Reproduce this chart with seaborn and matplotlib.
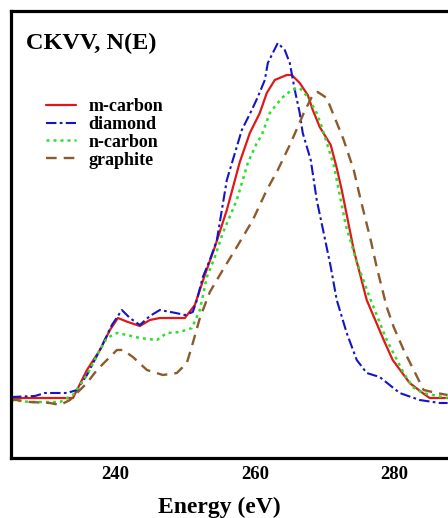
import numpy as np
import pandas as pd
import matplotlib
matplotlib.use("Agg")
import matplotlib.pyplot as plt
import seaborn as sns

# ---- data ----
m_carbon_E = [225.0, 229.16, 232.03, 233.89, 235.90, 237.76, 239.19, 240.34, 241.77, 243.49,
              244.93, 246.36, 249.95, 251.38, 252.81, 254.25, 255.97, 257.83, 259.27, 260.70,
              261.70, 262.85, 264.57, 265.29, 266.43, 267.58, 268.30, 269.30, 270.88, 271.74,
              272.46, 273.32, 274.18, 276.04, 278.48, 279.77, 282.21, 284.07, 285.07, 287.65]
m_carbon_I = [60, 60, 60, 60, 88, 108, 128, 140, 136, 132,
              138, 140, 140, 153, 183, 211, 248, 296, 325, 345,
              365, 378, 383, 383, 375, 363, 348, 331, 313, 290,
              268, 238, 208, 158, 118, 98, 75, 65, 60, 60]

diamond_E = [225.0, 228.44, 229.87, 233.03, 234.46, 235.90, 237.76, 239.48, 240.91, 242.06,
             243.49, 244.93, 246.36, 248.65, 249.95, 251.09, 251.67, 252.53, 253.53, 254.54,
             255.97, 258.12, 259.55, 260.41, 261.42, 261.85, 263.28, 264.28, 265.00, 265.72,
             266.43, 266.86, 268.01, 268.87, 269.87, 270.88, 271.74, 273.17, 274.61, 276.04,
             277.90, 280.77, 283.64, 286.51, 287.65]
diamond_I = [61, 62, 65, 65, 68, 83, 108, 133, 148, 140,
             133, 142, 148, 145, 143, 146, 158, 181, 198, 218,
             278, 328, 348, 361, 378, 395, 415, 408, 395, 368,
             345, 325, 298, 258, 225, 191, 158, 125, 98, 85,
             81, 65, 58, 55, 55]

n_carbon_E = [225.0, 227.72, 232.03, 233.89, 235.90, 237.76, 238.76, 240.20, 241.63, 243.49,
              245.93, 247.37, 249.23, 250.95, 252.10, 253.10, 254.25, 255.39, 257.40, 258.98,
              260.27, 260.99, 262.13, 263.85, 265.29, 266.43, 267.58, 268.87, 269.59, 271.31,
              272.17, 273.03, 274.61, 276.61, 278.91, 281.34, 282.63, 284.07, 287.65]
n_carbon_I = [58, 56, 56, 63, 83, 108, 120, 125, 123, 120,
              118, 125, 126, 130, 148, 181, 201, 225, 258, 295,
              315, 323, 345, 360, 368, 370, 361, 345, 331, 293,
              263, 233, 196, 158, 118, 85, 71, 65, 60]

graphite_E = [225.0, 225.86, 227.72, 230.59, 232.03, 233.46, 235.90, 237.33, 238.76, 240.20,
              241.06, 242.49, 244.50, 246.79, 248.80, 250.23, 251.09, 252.10, 253.53, 254.54,
              255.39, 257.40, 259.70, 261.70, 263.28, 265.14, 267.01, 268.30, 269.01, 270.31,
              271.17, 272.17, 272.74, 274.18, 275.18, 276.61, 277.47, 278.91, 279.91, 281.34,
              282.78, 284.21, 286.08, 287.65]
graphite_I = [58, 58, 56, 55, 53, 58, 75, 88, 98, 108,
              108, 101, 88, 83, 85, 95, 115, 140, 166, 178,
              188, 211, 238, 268, 288, 315, 345, 363, 366, 360,
              345, 328, 318, 288, 258, 218, 191, 151, 131, 108,
              88, 68, 65, 63]

series_names = ["m-carbon", "diamond", "n-carbon", "graphite"]
series_E = [m_carbon_E, diamond_E, n_carbon_E, graphite_E]
series_I = [m_carbon_I, diamond_I, n_carbon_I, graphite_I]

major_ticks = [240, 260, 280]
minor_ticks = [232.3, 249.1, 269.7]
title_text = "CKVV, N(E)"
xlabel_text = "Energy (eV)"

# ---- styles ----
colors = {"m-carbon": "#e01818", "diamond": "#1414c8", "n-carbon": "#2ee02e", "graphite": "#8c5a2b"}
dashes = {"m-carbon": (None, None), "diamond": (0, (5, 1.6, 1.3, 1.6)),
          "n-carbon": (0, (1.2, 1.6)), "graphite": (0, (4.5, 3))}
widths = {"m-carbon": 1.6, "diamond": 1.5, "n-carbon": 1.8, "graphite": 1.7}

sns.set_style("white")
plt.rcParams["font.family"] = ["Liberation Serif", "DejaVu Serif"]
plt.rcParams["font.weight"] = "bold"
plt.rcParams["text.color"] = "black"
plt.rcParams["xtick.color"] = "black"
plt.rcParams["axes.labelcolor"] = "black"

W, H = 448, 518
fig = plt.figure(figsize=(W / 100, H / 100), dpi=100)
left_px, right_px, top_px, bottom_px = 11, 464, 11, 458
ax = fig.add_axes([left_px / W, 1 - bottom_px / H, (right_px - left_px) / W, (bottom_px - top_px) / H])

frames = []
for name, E, I in zip(series_names, series_E, series_I):
    frames.append(pd.DataFrame({"E": E, "I": I, "sample": name}))
df = pd.concat(frames, ignore_index=True)

for name in series_names:
    sub = df[df["sample"] == name]
    ls = "-" if name == "m-carbon" else dashes[name]
    sns.lineplot(data=sub, x="E", y="I", ax=ax, color=colors[name], lw=widths[name],
                 linestyle=ls, label=name, sort=False, estimator=None)

ax.set_xlim(225, 290)
ax.set_ylim(0, 447)
ax.set_yticks([])
ax.set_xticks(major_ticks)
ax.set_xticks(minor_ticks, minor=True)
ax.set_xticklabels([str(t) for t in major_ticks])
ax.tick_params(axis="x", which="major", direction="in", length=12.5, width=1.1,
               pad=6, labelsize=13.5, color="black", labelcolor="black")
ax.tick_params(axis="x", which="minor", direction="in", length=5, width=1.1, color="black")
for lab in ax.get_xticklabels():
    lab.set_fontweight("bold")

for side in ["left", "bottom", "top"]:
    ax.spines[side].set_visible(True)
    ax.spines[side].set_linewidth(2.3)
    ax.spines[side].set_color("black")
ax.spines["right"].set_visible(False)

ax.set_xlabel(xlabel_text, fontsize=17, fontweight="bold", va="center", color="black")
ax.xaxis.set_label_coords((219 - left_px) / (right_px - left_px), (bottom_px - 507) / (bottom_px - top_px))
ax.set_ylabel("")

fig.text(26 / W, 1 - 43 / H, title_text, fontsize=17.5, fontweight="bold", va="center", ha="left",
         color="black")

leg = ax.legend(loc="upper left", bbox_to_anchor=(46 / W, 1 - 98 / H), bbox_transform=fig.transFigure,
                frameon=False, prop={"family": "Liberation Serif", "weight": "bold", "size": 13},
                handlelength=1.65, handletextpad=0.7, labelspacing=0.05, borderpad=0, borderaxespad=0)
for t in leg.get_texts():
    t.set_color("black")

fig.savefig("out.png", dpi=100)
